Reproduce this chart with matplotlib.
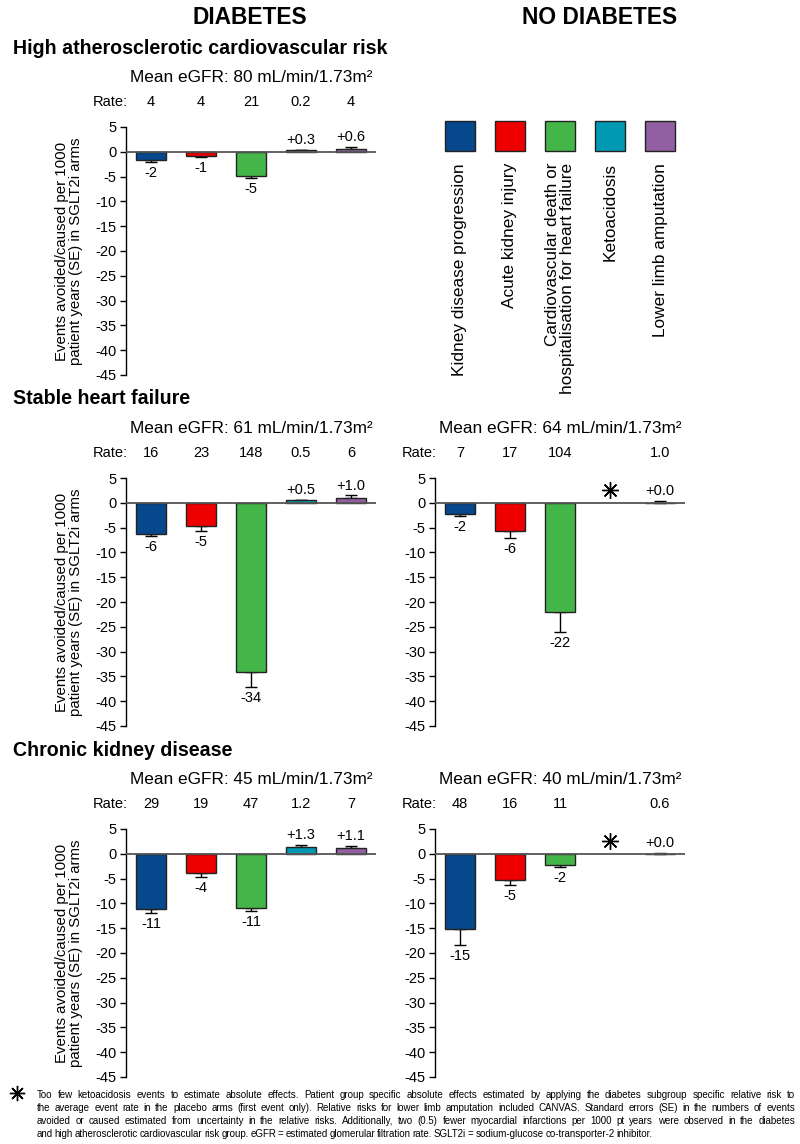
import matplotlib
matplotlib.use("Agg")
import matplotlib.pyplot as plt
import numpy as np
from matplotlib import font_manager
from matplotlib.lines import Line2D
from matplotlib.transforms import blended_transform_factory

plt.rcParams['font.family'] = ['Liberation Sans', 'DejaVu Sans']
plt.rcParams['axes.unicode_minus'] = False

W, H = 800, 1144

# categories and colours
outcomes = ["Kidney disease progression", "Acute kidney injury",
            "Cardiovascular death or\nhospitalisation for heart failure",
            "Ketoacidosis", "Lower limb amputation"]
colors = ["#07478B", "#EE0000", "#44B649", "#0099B3", "#915FA2"]

# diabetes - high atherosclerotic cardiovascular risk
d_ascvd_egfr = 80
d_ascvd_rate = ["4", "4", "21", "0.2", "4"]
d_ascvd_val = [-1.7, -0.8, -4.8, 0.3, 0.6]
d_ascvd_se = [0.3, 0.2, 0.5, 0.1, 0.4]
d_ascvd_lab = ["-2", "-1", "-5", "+0.3", "+0.6"]

# diabetes - stable heart failure
d_hf_egfr = 61
d_hf_rate = ["16", "23", "148", "0.5", "6"]
d_hf_val = [-6.3, -4.7, -34.1, 0.5, 1.0]
d_hf_se = [0.4, 0.9, 3.0, 0.1, 0.5]
d_hf_lab = ["-6", "-5", "-34", "+0.5", "+1.0"]

# no diabetes - stable heart failure
nd_hf_egfr = 64
nd_hf_rate = ["7", "17", "104", "", "1.0"]
nd_hf_val = [-2.2, -5.7, -22.0, np.nan, 0.02]
nd_hf_se = [0.5, 1.3, 4.0, np.nan, 0.3]
nd_hf_lab = ["-2", "-6", "-22", "", "+0.0"]

# diabetes - chronic kidney disease
d_ckd_egfr = 45
d_ckd_rate = ["29", "19", "47", "1.2", "7"]
d_ckd_val = [-11.2, -3.9, -10.9, 1.35, 1.1]
d_ckd_se = [0.8, 0.7, 0.6, 0.4, 0.45]
d_ckd_lab = ["-11", "-4", "-11", "+1.3", "+1.1"]

# no diabetes - chronic kidney disease
nd_ckd_egfr = 40
nd_ckd_rate = ["48", "16", "11", "", "0.6"]
nd_ckd_val = [-15.1, -5.3, -2.3, np.nan, 0.02]
nd_ckd_se = [3.2, 1.0, 0.4, np.nan, 0.2]
nd_ckd_lab = ["-15", "-5", "-2", "", "+0.0"]

star_y = 2.5  # where the "too few events" asterisk sits

fig = plt.figure(figsize=(W / 100, H / 100), dpi=100)


def px_axes(left, top, width, height):
    return fig.add_axes([left / W, 1 - (top + height) / H, width / W, height / H])


def draw_panel(ax, egfr, rates, vals, ses, labels, ylabel=False):
    x = np.arange(len(outcomes))
    vals = np.array(vals, float)
    ses = np.array(ses, float)
    ok = ~np.isnan(vals)
    ax.bar(x[ok], vals[ok], width=0.6, color=np.array(colors)[ok],
           edgecolor='#222222', linewidth=1, zorder=2)
    lower = np.where(vals[ok] < 0, ses[ok], 0)
    upper = np.where(vals[ok] < 0, 0, ses[ok])
    ax.errorbar(x[ok], vals[ok], yerr=[lower, upper], fmt='none', ecolor='black',
                elinewidth=1, capsize=4, capthick=1, zorder=1)
    for i in x[ok]:
        if vals[i] < 0:
            ax.annotate(labels[i], (i, vals[i] - ses[i]), xytext=(0, -3),
                        textcoords='offset points', ha='center', va='top', fontsize=10.5)
        else:
            ax.annotate(labels[i], (i, vals[i] + ses[i]), xytext=(0, 2),
                        textcoords='offset points', ha='center', va='bottom', fontsize=10.5)
    for i in x[~ok]:
        ax.plot(i, star_y, marker=(8, 2, 0), ms=12, mew=1.0, color='black')

    ax.axhline(0, color='#555555', lw=1.3, zorder=3)
    ax.set_xlim(-0.5, 4.5)
    ax.set_ylim(-45, 5)
    ax.set_yticks(np.arange(-45, 6, 5))
    ax.set_xticks([])
    for s in ['top', 'right', 'bottom']:
        ax.spines[s].set_visible(False)
    ax.spines['left'].set_linewidth(1)
    ax.tick_params(axis='y', direction='out', length=4, width=1, labelsize=10.5, pad=3)

    tr = blended_transform_factory(ax.transData, ax.transAxes)
    ax.text(-0.47, 1.1008, "Rate:", transform=tr, ha='right', va='center', fontsize=10.5)
    for i, r in enumerate(rates):
        ax.text(i, 1.1008, r, transform=tr, ha='center', va='center', fontsize=10.5)
    ax.text(0.5, 1.1976, f"Mean eGFR: {egfr} mL/min/1.73m\u00b2", transform=ax.transAxes,
            ha='center', va='center', fontsize=12.4)
    if ylabel:
        ax.set_ylabel("Events avoided/caused per 1000\npatient years (SE) in SGLT2i arms",
                      fontsize=10.8, va='center', linespacing=1.05)
        ax.yaxis.set_label_coords(-0.228, 0.5)


rows = [127, 478, 829]
ax1 = px_axes(126, rows[0], 250, 248)
draw_panel(ax1, d_ascvd_egfr, d_ascvd_rate, d_ascvd_val, d_ascvd_se, d_ascvd_lab, True)
ax2 = px_axes(126, rows[1], 250, 248)
draw_panel(ax2, d_hf_egfr, d_hf_rate, d_hf_val, d_hf_se, d_hf_lab, True)
ax3 = px_axes(435, rows[1], 250, 248)
draw_panel(ax3, nd_hf_egfr, nd_hf_rate, nd_hf_val, nd_hf_se, nd_hf_lab)
ax4 = px_axes(126, rows[2], 250, 248)
draw_panel(ax4, d_ckd_egfr, d_ckd_rate, d_ckd_val, d_ckd_se, d_ckd_lab, True)
ax5 = px_axes(435, rows[2], 250, 248)
draw_panel(ax5, nd_ckd_egfr, nd_ckd_rate, nd_ckd_val, nd_ckd_se, nd_ckd_lab)

# legend block
lg = px_axes(435, 121, 250, 30)
lg.bar(np.arange(5), 1, width=0.6, color=colors, edgecolor='#222222', linewidth=1, clip_on=False)
lg.set_xlim(-0.5, 4.5)
lg.set_ylim(0, 1)
lg.axis('off')
for i, name in enumerate(outcomes):
    lg.text(i, -0.4, name, rotation=90, ha='center', va='top', multialignment='right',
            fontsize=12.4, linespacing=1.05)

# titles
fig.text(250 / W, 1 - 17 / H, "DIABETES", ha='center', va='center', fontsize=16.4, weight='bold')
fig.text(600 / W, 1 - 17 / H, "NO DIABETES", ha='center', va='center', fontsize=16.4, weight='bold')
for t, y in zip(["High atherosclerotic cardiovascular risk", "Stable heart failure",
                 "Chronic kidney disease"], [48, 399, 750]):
    fig.text(13 / W, 1 - y / H, t, ha='left', va='center', fontsize=14.1, weight='bold')

# footnote, justified like the original
names = {f.name for f in font_manager.fontManager.ttflist}
foot_family = 'Liberation Sans Narrow' if 'Liberation Sans Narrow' in names else 'Liberation Sans'
foot_lines = [
    "Too few ketoacidosis events to estimate absolute effects. Patient group specific absolute effects estimated by applying the diabetes subgroup specific relative risk to",
    "the average event rate in the placebo arms (first event only). Relative risks for lower limb amputation included CANVAS. Standard errors (SE) in the numbers of events",
    "avoided or caused estimated from uncertainty in the relative risks. Additionally, two (0.5) fewer myocardial infarctions per 1000 pt years were observed in the diabetes",
    "and high atherosclerotic cardiovascular risk group. eGFR = estimated glomerular filtration rate. SGLT2i = sodium-glucose co-transporter-2 inhibitor.",
]
foot_fs = 8.2 if foot_family.endswith('Narrow') else 7.0
renderer = fig.canvas.get_renderer()
x_left, x_right = 37, 795
for k, line in enumerate(foot_lines):
    y = 1095 + 13 * k
    words = line.split()
    texts = [fig.text(0, 0, w, fontsize=foot_fs, family=foot_family, va='center') for w in words]
    widths = [t.get_window_extent(renderer).width for t in texts]
    space = texts[0].get_fontsize() * 0.25
    if k < len(foot_lines) - 1:
        space = (x_right - x_left - sum(widths)) / (len(words) - 1)
    x = x_left
    for t, w in zip(texts, widths):
        t.set_position((x / W, 1 - y / H))
        x += w + space

fig.add_artist(Line2D([17 / W], [1 - 1093 / H], marker=(8, 2, 0), ms=11, mew=1.0,
                      color='black', transform=fig.transFigure))

fig.savefig("out.png", dpi=100)
